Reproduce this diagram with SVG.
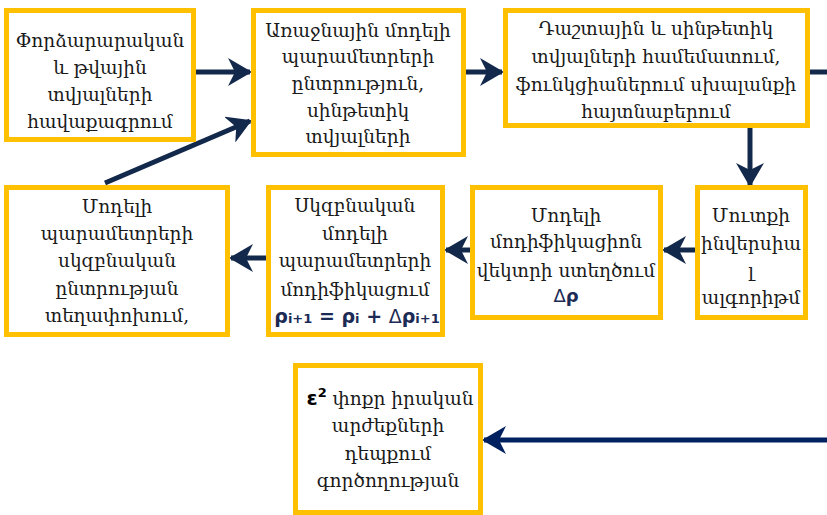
<svg xmlns="http://www.w3.org/2000/svg" width="827" height="515" viewBox="0 0 827 515">
  <style>
    .box { fill: #ffffff; stroke: #FFC000; stroke-width: 5; }
    .lbl { font-family: "DejaVu Serif", "Noto Sans", serif; font-size: 18.5px; fill: #1a1a1a; text-anchor: middle; }
    .math { font-family: "DejaVu Sans", "Liberation Sans", sans-serif; font-weight: bold; fill: #1c2b55; }
    .conn { stroke: #13294B; stroke-width: 5; fill: none; }
    .conn2 { stroke: #002060; stroke-width: 5; fill: none; }
  </style>
  <defs>
    <marker id="stealth" viewBox="0 0 24 28" refX="22" refY="14" markerWidth="24" markerHeight="28" markerUnits="userSpaceOnUse" orient="auto">
      <path d="M0,0 L24,14 L0,28 L7,14 Z" fill="#13294B"/>
    </marker>
    <marker id="stealth2" viewBox="0 0 24 28" refX="22" refY="14" markerWidth="24" markerHeight="28" markerUnits="userSpaceOnUse" orient="auto">
      <path d="M0,0 L24,14 L0,28 L7,14 Z" fill="#002060"/>
    </marker>
  </defs>

  <rect width="827" height="515" fill="#ffffff"/>

  <!-- connectors -->
  <g id="connectors">
    <line class="conn" x1="196" y1="72" x2="250" y2="72" marker-end="url(#stealth)"/>
    <line class="conn" x1="105" y1="183" x2="250" y2="121" marker-end="url(#stealth)"/>
    <line class="conn" x1="466" y1="72" x2="502" y2="72" marker-end="url(#stealth)"/>
    <line class="conn" x1="810" y1="72" x2="827" y2="72"/>
    <line class="conn" x1="750" y1="128" x2="750" y2="185" marker-end="url(#stealth)"/>
    <line class="conn" x1="695" y1="250" x2="664" y2="250" marker-end="url(#stealth)"/>
    <line class="conn" x1="470" y1="250" x2="446" y2="250" marker-end="url(#stealth)"/>
    <line class="conn" x1="266" y1="258" x2="231" y2="258" marker-end="url(#stealth)"/>
    <line class="conn2" x1="827" y1="440" x2="484" y2="440" marker-end="url(#stealth2)"/>
  </g>

  <g id="n1">
    <rect class="box" x="6.5" y="10.5" width="187" height="129"/>
    <text class="lbl" x="100" y="47">Փորձարարական</text>
    <text class="lbl" x="100" y="74">և թվային</text>
    <text class="lbl" x="100" y="101">տվյալների</text>
    <text class="lbl" x="100" y="128">հավաքագրում</text>
  </g>

  <g id="n2">
    <rect class="box" x="253.5" y="10.5" width="210" height="144"/>
    <text class="lbl" x="358" y="37">Առաջնային մոդելի</text>
    <text class="lbl" x="358" y="63">պարամետրերի</text>
    <text class="lbl" x="358" y="90">ընտրություն,</text>
    <text class="lbl" x="358" y="117">սինթետիկ</text>
    <text class="lbl" x="358" y="143">տվյալների</text>
  </g>

  <g id="n3">
    <rect class="box" x="505.5" y="10.5" width="302" height="115"/>
    <text class="lbl" x="656" y="35">Դաշտային և սինթետիկ</text>
    <text class="lbl" x="656" y="63">տվյալների համեմատում,</text>
    <text class="lbl" x="656" y="91">ֆունկցիաներում սխալանքի</text>
    <text class="lbl" x="656" y="118">հայտնաբերում</text>
  </g>

  <g id="n4">
    <rect class="box" x="6.5" y="187.5" width="221" height="147"/>
    <text class="lbl" x="117" y="213">Մոդելի</text>
    <text class="lbl" x="117" y="240">պարամետրերի</text>
    <text class="lbl" x="117" y="267">սկզբնական</text>
    <text class="lbl" x="117" y="295">ընտրության</text>
    <text class="lbl" x="117" y="322">տեղափոխում,</text>
  </g>

  <g id="n5">
    <rect class="box" x="268.5" y="187.5" width="174" height="147"/>
    <text class="lbl" x="355" y="212">Սկզբնական</text>
    <text class="lbl" x="355" y="240">մոդելի</text>
    <text class="lbl" x="355" y="267">պարամետրերի</text>
    <text class="lbl" x="355" y="296">մոդիֆիկացում</text>
    <text class="math" x="357" y="323" text-anchor="middle" font-size="19">ρ<tspan font-size="13">i+1</tspan> = ρ<tspan font-size="13">i</tspan> + <tspan font-weight="normal">Δ</tspan>ρ<tspan font-size="13">i+1</tspan></text>
  </g>

  <g id="n6">
    <rect class="box" x="472.5" y="187.5" width="188" height="130"/>
    <text class="lbl" x="566" y="222">Մոդելի</text>
    <text class="lbl" x="566" y="248">մոդիֆիկացիոն</text>
    <text class="lbl" x="566" y="277">վեկտրի ստեղծում</text>
    <text class="math" x="566" y="302" text-anchor="middle" font-size="18"><tspan font-weight="normal">Δ</tspan>ρ</text>
  </g>

  <g id="n7">
    <rect class="box" x="697.5" y="187.5" width="108" height="130"/>
    <text class="lbl" x="751" y="222">Մուտքի</text>
    <text class="lbl" x="751" y="250">ինվերսիա</text>
    <text class="lbl" x="751" y="277">լ</text>
    <text class="lbl" x="751" y="304">ալգորիթմ</text>
  </g>

  <g id="n8">
    <rect class="box" x="295.5" y="365.5" width="185" height="147"/>
    <text class="lbl" x="390" y="405"><tspan font-family="DejaVu Sans, sans-serif" font-weight="bold" font-size="20" fill="#000">ε<tspan font-size="13" dy="-8">2</tspan></tspan><tspan dy="8"> փոքր իրական</tspan></text>
    <text class="lbl" x="388" y="432">արժեքների</text>
    <text class="lbl" x="388" y="460">դեպքում</text>
    <text class="lbl" x="388" y="487">գործողության</text>
  </g>
</svg>
